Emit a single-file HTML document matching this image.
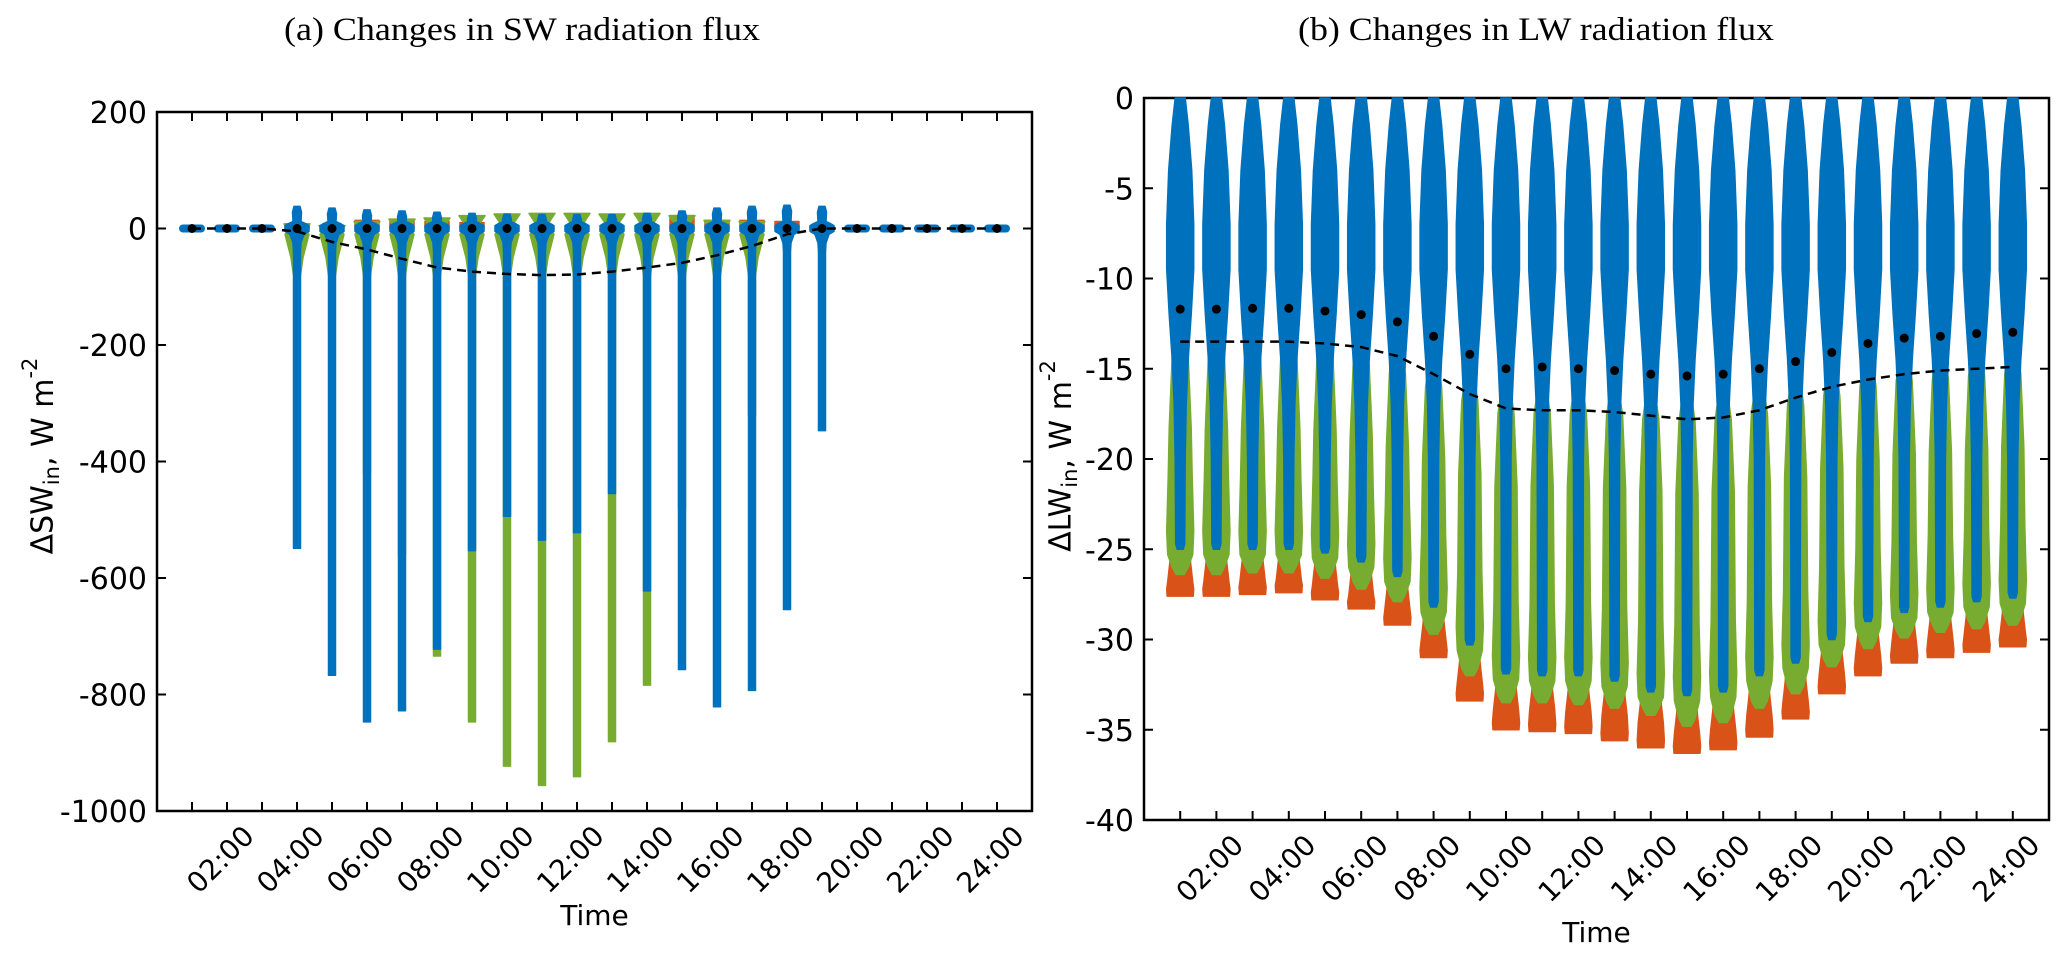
<!DOCTYPE html>
<html><head><meta charset="utf-8"><title>Changes in SW and LW radiation flux</title>
<style>
html,body{margin:0;padding:0;background:#fff;}
svg{display:block;}
text{font-family:"DejaVu Sans","Liberation Sans",sans-serif;fill:#000;}
.ttl{font-family:"Liberation Serif",serif;}
</style></head>
<body>
<svg id="fig" width="2067" height="961" viewBox="0 0 2067 961" xmlns="http://www.w3.org/2000/svg">
<g id="pa"></g>
<g id="pb"></g>
</svg>
<script>
// ---------- data ----------
const hours = [1,2,3,4,5,6,7,8,9,10,11,12,13,14,15,16,17,18,19,20,21,22,23,24];
const xTickLabels = ["02:00","04:00","06:00","08:00","10:00","12:00","14:00","16:00","18:00","20:00","22:00","24:00"];
const xTickHours = [2,4,6,8,10,12,14,16,18,20,22,24];
// Panel (a) SW
const swYTicks = [200,0,-200,-400,-600,-800,-1000];
const swBlueMax = [0,0,0,38,35,32,30,28,26,25,24,24,24,26,30,35,38,40,38,0,0,0,0,0];
const swBlueMin = [0,0,0,-549,-767,-847,-828,-722,-553,-494,-535,-522,-455,-622,-757,-821,-793,-654,-347,0,0,0,0,0];
const swGreenMin = [0,0,0,-20,-30,-420,-560,-734,-847,-923,-956,-941,-881,-784,-480,-40,-320,-30,-10,0,0,0,0,0];
const swGreenTop = [0,0,0,8,5,12,16,18,22,25,26,26,25,26,22,14,12,0,0,0,0,0,0,0];
const swOrangeTop = [0,0,0,8,0,14,14,12,10,0,0,0,0,0,22,14,14,12,4,0,0,0,0,0];
const swMean = [0,0,0,0,0,0,0,0,0,0,0,0,0,0,0,0,0,0,0,0,0,0,0,0];
const swDashed = [0,0,0,-5,-23,-36,-52,-67,-74,-78,-80,-79,-74,-67,-59,-46,-30,-10,0,0,0,0,0,0];
// Panel (b) LW
const lwYTicks = [0,-5,-10,-15,-20,-25,-30,-35,-40];
const lwBlueMin = [-25.0,-25.0,-25.0,-25.0,-25.2,-25.7,-26.5,-28.2,-30.3,-31.9,-32.0,-32.0,-32.3,-32.9,-33.1,-32.9,-32.0,-31.3,-30.0,-29.0,-28.5,-28.2,-27.9,-27.7];
const lwGreenTop = [-12.3,-12.3,-12.3,-12.3,-12.4,-12.8,-13.3,-14.0,-14.8,-15.5,-15.5,-15.5,-15.6,-15.8,-15.9,-15.8,-15.5,-15.0,-14.5,-14.0,-13.7,-13.6,-13.4,-13.3];
const lwGreenMin = [-26.4,-26.4,-26.3,-26.3,-26.6,-27.2,-27.9,-29.7,-32.0,-33.5,-33.5,-33.6,-33.8,-34.2,-34.8,-34.6,-33.8,-33.0,-31.5,-30.5,-29.9,-29.6,-29.4,-29.2];
const lwOrangeMin = [-27.6,-27.6,-27.5,-27.4,-27.8,-28.3,-29.2,-31.0,-33.4,-35.0,-35.1,-35.2,-35.6,-36.0,-36.3,-36.1,-35.4,-34.4,-33.0,-32.0,-31.3,-31.0,-30.7,-30.4];
const lwMean = [-11.7,-11.7,-11.65,-11.65,-11.8,-12.0,-12.4,-13.2,-14.2,-15.0,-14.9,-15.0,-15.1,-15.3,-15.4,-15.3,-15.0,-14.6,-14.1,-13.6,-13.3,-13.2,-13.05,-12.98];
const lwDashed = [-13.5,-13.5,-13.5,-13.5,-13.6,-13.8,-14.3,-15.3,-16.4,-17.2,-17.3,-17.3,-17.4,-17.6,-17.8,-17.7,-17.3,-16.6,-16.0,-15.6,-15.3,-15.1,-15.0,-14.9];

const NS="http://www.w3.org/2000/svg";
const BLUE="#0072bd", GREEN="#77ac30", ORANGE="#d95319";
function mk(tag, attrs, parent){const e=document.createElementNS(NS,tag);for(const k in attrs)e.setAttribute(k,attrs[k]);parent.appendChild(e);return e;}
function txt(parent,x,y,s,attrs){const t=mk('text',Object.assign({x:x,y:y},attrs||{}),parent);t.textContent=s;return t;}

function axes(g, L, R, T, B, yMin, yMax, yTicks, title, titleX, ylab, ylabX, timeY){
  const xs = h => L + h*(R-L)/25;
  const ys = v => T + (yMax - v)*(B-T)/(yMax-yMin);
  const t = txt(g, titleX, 40, title, {'class':'ttl','text-anchor':'middle','font-size':'33','textLength':'476','lengthAdjust':'spacingAndGlyphs'});
  
  
  const frame = mk('rect',{x:L,y:T,width:R-L,height:B-T,fill:'none',stroke:'#000','stroke-width':2.5},g);
  
  
  hours.forEach(h=>{
    const x=xs(h);
    const tk=mk('path',{d:`M${x},${B}v-9M${x},${T}v9`,stroke:'#000','stroke-width':2},g);
    
    
  });
  xTickHours.forEach((h,i)=>{
    const x=xs(h)+14, y=B+12;
    const lt=txt(g,x,y,xTickLabels[i],{'text-anchor':'end','font-size':'28','transform':`rotate(-45 ${x} ${y})`,'dominant-baseline':'hanging'});
    
    
  });
  yTicks.forEach(v=>{
    const y=ys(v);
    const tk=mk('path',{d:`M${L},${y}h9M${R},${y}h-9`,stroke:'#000','stroke-width':2},g);
    
    
    const lt=txt(g,L-10,y+11,String(v),{'text-anchor':'end','font-size':'30'});
    
    
  });
  const yl=txt(g,ylabX,456,'',{'text-anchor':'middle','font-size':'30','transform':`rotate(-90 ${ylabX} 456)`,'dominant-baseline':'middle'});
  
  
  yl.innerHTML = `Δ${ylab}<tspan font-size="21" dy="9">in</tspan><tspan dy="-9">, W m</tspan><tspan font-size="21" dy="-13">-2</tspan>`;
  const xl=txt(g,(L+R)/2,timeY,'Time',{'text-anchor':'middle','font-size':'28'});
  
  
  return {xs, ys};
}
function shape(g, cx, prof, color, name){
  let d='M'+prof.map(p=>`${cx-p[1]},${p[0]}`).join(' L')+' L'+prof.slice().reverse().map(p=>`${cx+p[1]},${p[0]}`).join(' L')+'Z';
  const e=mk('path',{d:d,fill:color,stroke:color,'stroke-width':1.5,'stroke-linejoin':'round'},g);
  
  
  return e;
}
function dashed(g, xs, ys, vals){
  const pts = hours.map((h,i)=>`${xs(h)},${ys(vals[i])}`).join(' ');
  const l=mk('polyline',{points:pts,fill:'none',stroke:'#000','stroke-width':2.5,'stroke-dasharray':'9,6'},g);
  
  
}
function dot(g,x,y){
  const c=mk('circle',{cx:x,cy:y,r:4.5,fill:'#000'},g);
  
  
}

// ---------- panel a ----------
(function(){
  const g=document.getElementById('pa');
  const {xs, ys} = axes(g,157,1032,112,811,-1000,200,swYTicks,'(a) Changes in SW radiation flux',522,'SW',44,925);
  const y0=ys(0);
  hours.forEach((h,i)=>{
    const cx=xs(h);
    if(swBlueMin[i]===0){
      const e=mk('rect',{x:cx-13,y:y0-4,width:26,height:8,rx:4,fill:BLUE},g);
      
      
      dot(g,cx,ys(swMean[i]));
      return;
    }
    if(swOrangeTop[i]>0) shape(g,cx,[[ys(swOrangeTop[i]),12],[ys(0),12],[ys(-8),8]],ORANGE,'sw-violin-orange-'+h);
    if(swGreenTop[i]>0) shape(g,cx,[[ys(swGreenTop[i]),13],[ys(swGreenTop[i]-8),10],[ys(5),5],[ys(-10),12],[ys(-50),6],[ys(-80),3.5]],GREEN,'sw-violin-green-top-'+h);
    shape(g,cx,[[ys(-5),3.5],[ys(swGreenMin[i]),3.5]],GREEN,'sw-violin-green-'+h);
    shape(g,cx,[[ys(swBlueMax[i]),3],[ys(swBlueMax[i]-10),4.5],[ys(12),4],[ys(8),9],[ys(5),12],[ys(-5),12],[ys(-10),7],[ys(-25),4],[ys(-40),3.5],[ys(swBlueMin[i]),3.5]],BLUE,'sw-violin-blue-'+h);
    dot(g,cx,ys(swMean[i]));
  });
  dashed(g,xs,ys,swDashed);
})();

// ---------- panel b ----------
(function(){
  const g=document.getElementById('pb');
  const {xs, ys} = axes(g,1144,2049,98,820,-40,0,lwYTicks,'(b) Changes in LW radiation flux',1536,'LW',1062,942);
  hours.forEach((h,i)=>{
    const cx=xs(h);
    const gm=lwGreenMin[i], om=lwOrangeMin[i], bm=lwBlueMin[i], gt=lwGreenTop[i];
    shape(g,cx,[[ys(gm+1.6),9],[ys(gm+0.6),10.5],[ys(gm-0.4),12.5],[ys(om+0.4),13.5],[ys(om),13]],ORANGE,'lw-violin-orange-'+h);
    shape(g,cx,[[ys(gt),3],[ys(gt-2),8],[ys(gt-6),11],[ys(bm+4),12],[ys(bm+1),13.5],[ys(bm-0.3),12.5],[ys(gm+0.4),8],[ys(gm),4]],GREEN,'lw-violin-green-'+h);
    shape(g,cx,[[ys(0),5],[ys(-1.5),8],[ys(-4),11.5],[ys(-7),13.5],[ys(-9.5),13.5],[ys(-12),11],[ys(-14.5),8],[ys(-17),6],[ys(-20),5],[ys(bm+0.3),4.5],[ys(bm),3]],BLUE,'lw-violin-blue-'+h);
    dot(g,cx,ys(lwMean[i]));
  });
  dashed(g,xs,ys,lwDashed);
})();
</script>
</body></html>
